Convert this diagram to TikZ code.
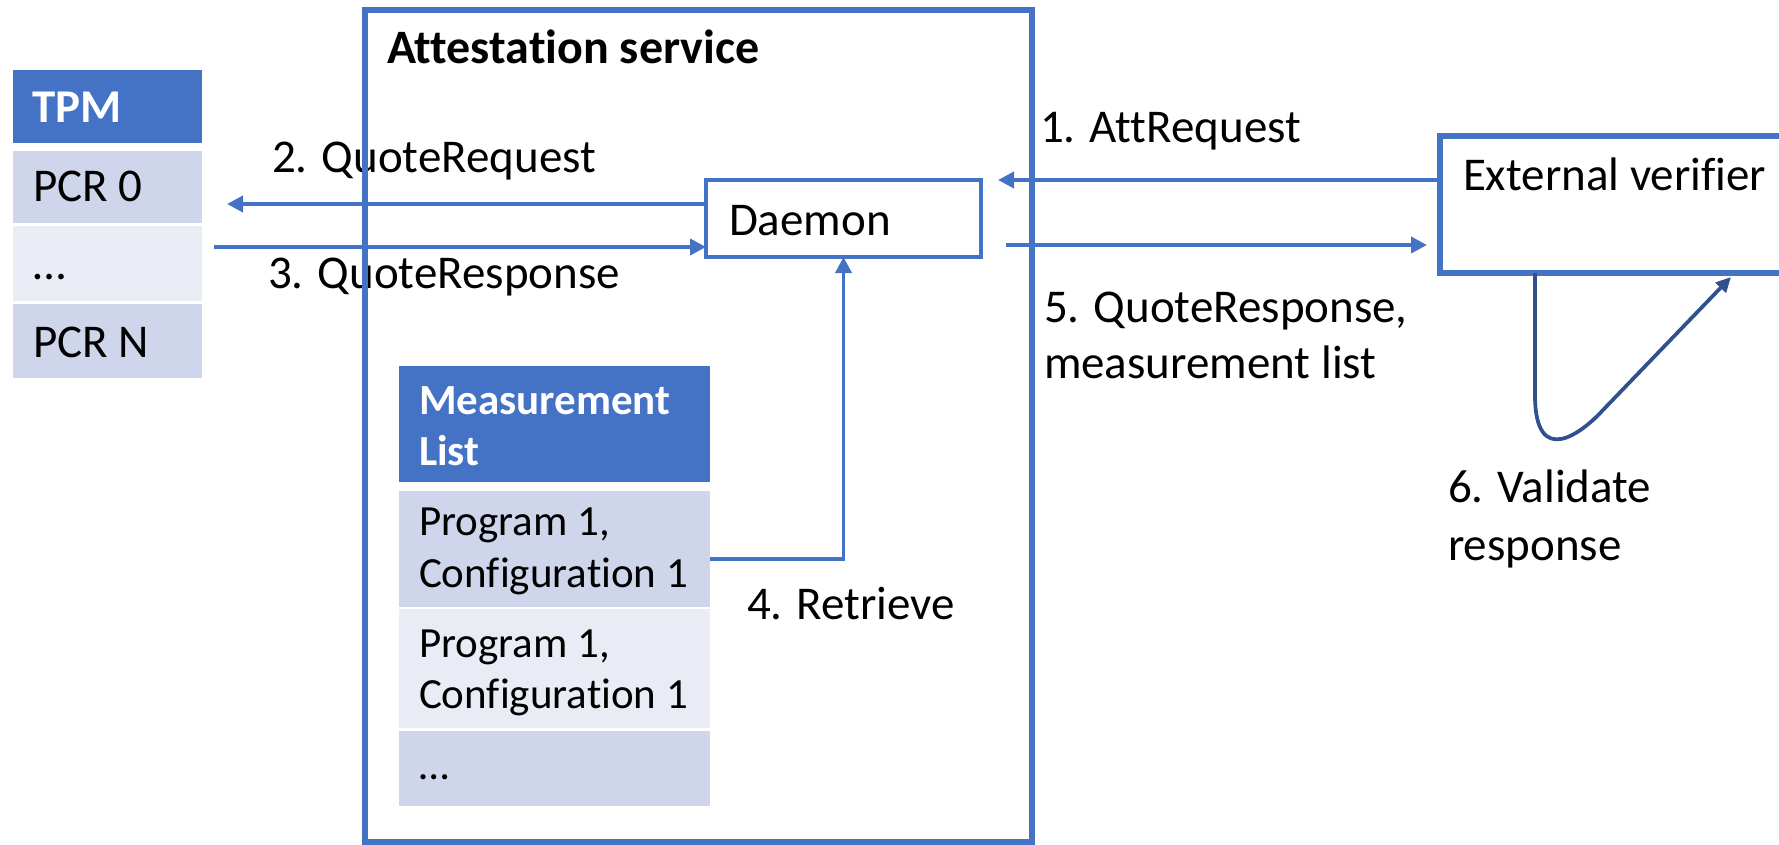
\documentclass[tikz,border=0pt]{standalone}
\usepackage{fontspec}
\setmainfont[Ligatures=NoCommon]{Carlito}
\usetikzlibrary{arrows.meta}
\definecolor{accent}{HTML}{4472C4}
\definecolor{rowdark}{HTML}{CFD5EA}
\definecolor{rowlight}{HTML}{E9EBF5}
\definecolor{loopblue}{HTML}{2F528F}
\begin{document}
\begin{tikzpicture}[x=1pt,y=-1pt,
  lbl/.style={anchor=base west, inner sep=0pt, outer sep=0pt, font=\fontsize{47}{56}\selectfont},
  hdr/.style={lbl, text=white, font=\fontsize{47}{56}\selectfont\bfseries},
  mltxt/.style={lbl, font=\fontsize{43}{51}\selectfont},
  mlhdr/.style={lbl, text=white, font=\fontsize{43}{51}\selectfont\bfseries},
  cell/.style={anchor=north west, inner sep=0pt, outer sep=0pt, draw=none},
  boxframe/.style={anchor=north west, draw=accent, inner sep=0pt, outer sep=0pt},
  arr/.style={draw=accent, line width=3.75pt, -{Triangle[length=16pt,width=16pt]}},
  selfarr/.style={draw=loopblue, line width=3.75pt, -{Triangle[length=15pt,width=14pt]}}]
\useasboundingbox (0,0) rectangle (1779,845);
\clip (0,0) rectangle (1779,845);

% TPM register table
\node[cell, fill=accent,   minimum width=189pt, minimum height=73pt] (tpm)     at (13,70)  {};
\node[cell, fill=rowdark,  minimum width=189pt, minimum height=72pt] (pcr0)    at (13,151) {};
\node[cell, fill=rowlight, minimum width=189pt, minimum height=75pt] (pcrdots) at (13,226) {};
\node[cell, fill=rowdark,  minimum width=189pt, minimum height=74pt] (pcrn)    at (13,304) {};
\node[hdr] (tpmtxt)     at (32,123) {TPM};
\node[lbl] (pcr0txt)    at (33,201) {PCR 0};
\node[lbl] (pcrdotstxt) at (33,279) {…};
\node[lbl] (pcrntxt)    at (33,357) {PCR N};

% Measurement list table
\node[cell, fill=accent,   minimum width=311pt, minimum height=116pt] (mlhead) at (399,366) {};
\node[cell, fill=rowdark,  minimum width=311pt, minimum height=116pt] (ml1)    at (399,491) {};
\node[cell, fill=rowlight, minimum width=311pt, minimum height=119pt] (ml2)    at (399,609) {};
\node[cell, fill=rowdark,  minimum width=311pt, minimum height=75pt]  (ml3)    at (399,731) {};
\node[mlhdr] (mlheadA) at (419,414) {Measurement};
\node[mlhdr] (mlheadB) at (419,465) {List};
\node[mltxt] (ml1A) at (419,535) {Program 1,};
\node[mltxt] (ml1B) at (419,587) {Configuration 1};
\node[mltxt] (ml2A) at (419,657) {Program 1,};
\node[mltxt] (ml2B) at (419,708) {Configuration 1};
\node[mltxt] (ml3txt) at (419,779) {…};

% Daemon and external verifier
\node[boxframe, line width=3.75pt, minimum width=275pt, minimum height=77pt] (daemon) at (706,180) {};
\node[lbl] (daemontxt) at (729,235) {Daemon};
\node[boxframe, line width=6.5pt, minimum width=400pt, minimum height=137pt] (ver) at (1440,136) {};
\node[lbl] (vertxt) at (1463,190) {External verifier};

% Step labels
\node[lbl] (s1)  at (1040,143) {1. AttRequest};
\node[lbl] (s2)  at (272,173)  {2. QuoteRequest};
\node[lbl] (s3)  at (268,288)  {3. QuoteResponse};
\node[lbl] (s4)  at (747,619)  {4. Retrieve};
\node[lbl] (s5a) at (1044,322) {5. QuoteResponse,};
\node[lbl] (s5b) at (1044,378) {measurement list};
\node[lbl] (s6a) at (1448,502) {6. Validate};
\node[lbl] (s6b) at (1448,560) {response};

% Message flow
\coordinate (a1end) at (998,180);
\draw[arr] (ver.west |- a1end) -- (a1end);
\coordinate (a2end) at (227,204);
\draw[arr] (daemon.west |- a2end) -- (a2end);
\coordinate (a3start) at (214,247);
\draw[arr] (a3start) -- (daemon.west |- a3start);
\coordinate (a4bend) at (843.5,559);
\draw[arr] (ml1.east |- a4bend) -- (a4bend) -- (daemon.south);
\coordinate (a5start) at (1006,245);
\coordinate (a5end) at (1427,245);
\draw[arr] (a5start) -- (a5end);
\draw[selfarr] ([xshift=95pt]ver.south west) -- (1535,395)
  .. controls (1535,470) and (1583,432) .. (1603,410)
  -- ([xshift=291pt,yshift=-4pt]ver.south west);

% Attestation service frame, drawn over the crossing arrows
\node[boxframe, line width=6.5pt, minimum width=667pt, minimum height=832pt] (att) at (365,10) {};
\node[lbl, font=\fontsize{48}{56}\selectfont\bfseries] (atttxt) at (387,64) {Attestation service};
\end{tikzpicture}
\end{document}
